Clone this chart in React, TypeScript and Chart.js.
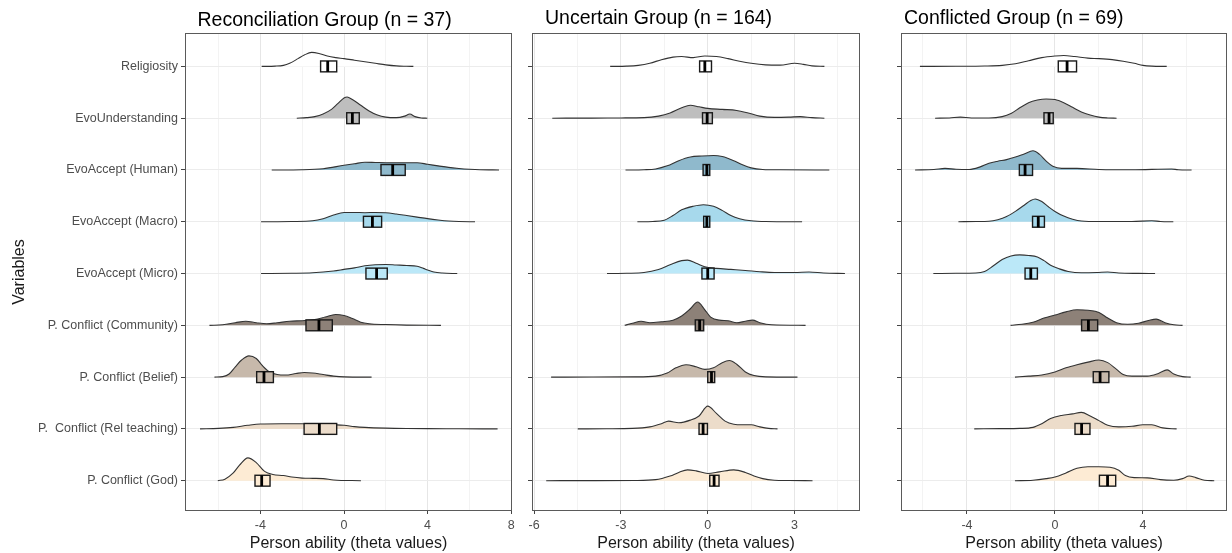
import React, { useEffect, useRef } from "react";
import { Chart, registerables } from "chart.js";

Chart.register(...registerables);

const FONT = "'Liberation Sans', Arial, Helvetica, sans-serif";

// ---------------- data ----------------
const categories = [
  "Religiosity",
  "EvoUnderstanding",
  "EvoAccept (Human)",
  "EvoAccept (Macro)",
  "EvoAccept (Micro)",
  "P. Conflict (Community)",
  "P. Conflict (Belief)",
  "P.  Conflict (Rel teaching)",
  "P. Conflict (God)",
];
const fillColors = ["#ffffff", "#bebebe", "#8fb9cc", "#a7d9ec", "#bbe8f8", "#8d8178", "#c7b9ab", "#ecdcca", "#fdebd4"];
const groupTitles = ["Reconciliation Group (n = 37)", "Uncertain Group (n = 164)", "Conflicted Group (n = 69)"];
const xAxisTitle = "Person ability (theta values)";
const yAxisTitle = "Variables";

const reconRange = [-7.61, 8.04];
const reconMajorTicks = [-4, 0, 4, 8];
const reconMinorTicks = [-6, -2, 2, 6];
const uncRange = [-6.07, 5.26];
const uncMajorTicks = [-6, -3, 0, 3];
const uncMinorTicks = [-4.5, -1.5, 1.5, 4.5];
const confRange = [-7.0, 7.82];
const confMajorTicks = [-4, 0, 4];
const confMinorTicks = [-6, -2, 2, 6];

// density curves: [theta, relative height]
const reconDensity: number[][][] = [
  [[-3.94,0],[-3.3,0.005],[-2.9,0.02],[-2.6,0.06],[-2.2,0.15],[-1.9,0.22],[-1.55,0.27],[-1.2,0.25],[-0.8,0.2],[-0.4,0.17],[0,0.15],[0.5,0.12],[1.0,0.09],[1.5,0.06],[2.0,0.03],[2.5,0.01],[3.0,0.003],[3.32,0]],
  [[-2.26,0],[-1.8,0.01],[-1.4,0.03],[-1.0,0.08],[-0.6,0.17],[-0.3,0.28],[0,0.39],[0.15,0.41],[0.4,0.36],[0.8,0.25],[1.2,0.14],[1.6,0.06],[2.0,0.02],[2.5,0.01],[2.9,0.04],[3.15,0.08],[3.4,0.03],[3.7,0.005],[3.99,0]],
  [[-3.46,0],[-2,0.005],[-1,0.025],[0,0.09],[0.5,0.12],[1,0.15],[1.5,0.145],[2,0.14],[2.5,0.14],[3,0.14],[3.5,0.14],[4,0.11],[4.5,0.08],[5,0.05],[5.5,0.03],[6,0.015],[6.5,0.005],[7.42,0]],
  [[-3.97,0],[-2.5,0.005],[-1.5,0.02],[-1,0.06],[-0.5,0.13],[0,0.18],[0.5,0.18],[1,0.175],[1.5,0.18],[2,0.175],[2.5,0.15],[3,0.12],[3.5,0.09],[4,0.06],[4.5,0.035],[5,0.015],[5.5,0.005],[6.27,0]],
  [[-3.97,0],[-2.5,0.005],[-1.5,0.015],[-0.5,0.05],[0,0.08],[0.5,0.11],[1,0.15],[1.5,0.17],[2,0.175],[2.5,0.165],[3,0.155],[3.5,0.14],[3.8,0.1],[4.0,0.07],[4.3,0.03],[4.7,0.01],[5.42,0]],
  [[-6.44,0],[-5.8,0.01],[-5.2,0.05],[-4.7,0.08],[-4.2,0.05],[-3.7,0.03],[-3.2,0.05],[-2.6,0.08],[-2,0.09],[-1.4,0.11],[-0.9,0.16],[-0.4,0.21],[0,0.19],[0.4,0.13],[0.8,0.06],[1.2,0.03],[2,0.015],[3,0.005],[4.64,0]],
  [[-6.2,0],[-5.8,0.01],[-5.5,0.06],[-5.2,0.2],[-4.9,0.33],[-4.55,0.41],[-4.2,0.36],[-3.9,0.22],[-3.6,0.11],[-3.2,0.05],[-2.8,0.04],[-2.3,0.07],[-1.9,0.09],[-1.5,0.08],[-1.0,0.05],[-0.5,0.02],[0,0.005],[1.32,0]],
  [[-6.89,0],[-6,0.01],[-5.3,0.03],[-4.6,0.07],[-4,0.095],[-3,0.1],[-2,0.1],[-1,0.09],[0,0.07],[0.5,0.045],[1,0.03],[2,0.015],[3,0.008],[4,0.005],[5.5,0.003],[7.35,0]],
  [[-6.04,0],[-5.7,0.03],[-5.3,0.15],[-5.0,0.3],[-4.6,0.44],[-4.2,0.35],[-3.8,0.18],[-3.4,0.12],[-2.9,0.1],[-2.5,0.07],[-2,0.05],[-1.5,0.045],[-1,0.04],[-0.5,0.015],[0.81,0]],
];
const reconBoxLow = [-1.12, 0.13, 1.77, 0.93, 1.05, -1.82, -4.18, -1.91, -4.26];
const reconBoxMid = [-0.78, 0.40, 2.33, 1.36, 1.56, -1.2, -3.83, -1.18, -3.94];
const reconBoxHigh = [-0.35, 0.73, 2.93, 1.80, 2.07, -0.56, -3.38, -0.35, -3.54];

const uncDensity: number[][][] = [
  [[-3.37,0],[-2.8,0.005],[-2.4,0.02],[-2.0,0.06],[-1.6,0.13],[-1.2,0.18],[-0.9,0.19],[-0.5,0.17],[-0.1,0.2],[0.3,0.19],[0.7,0.15],[1.1,0.1],[1.5,0.06],[2.0,0.03],[2.5,0.025],[3.0,0.06],[3.3,0.04],[3.6,0.01],[4.03,0]],
  [[-5.37,0],[-4,0.002],[-3,0.005],[-2.2,0.01],[-1.7,0.04],[-1.3,0.1],[-0.9,0.2],[-0.6,0.25],[-0.3,0.22],[0,0.19],[0.5,0.17],[1.0,0.15],[1.4,0.1],[1.8,0.04],[2.3,0.015],[2.8,0.02],[3.2,0.03],[3.6,0.01],[4.03,0]],
  [[-2.84,0],[-2.2,0.005],[-1.8,0.02],[-1.4,0.08],[-1.0,0.18],[-0.6,0.25],[-0.2,0.27],[0.2,0.28],[0.5,0.26],[0.9,0.18],[1.2,0.1],[1.5,0.04],[1.9,0.01],[2.5,0.003],[4.2,0]],
  [[-2.43,0],[-1.9,0.005],[-1.5,0.03],[-1.2,0.12],[-0.9,0.23],[-0.5,0.3],[-0.15,0.33],[0.2,0.3],[0.5,0.22],[0.8,0.12],[1.1,0.06],[1.5,0.02],[2,0.005],[3.26,0]],
  [[-3.48,0],[-2.8,0.005],[-2.2,0.02],[-1.7,0.08],[-1.3,0.17],[-0.9,0.25],[-0.7,0.26],[-0.4,0.2],[-0.1,0.13],[0.3,0.1],[0.8,0.08],[1.3,0.06],[1.8,0.035],[2.3,0.02],[3.0,0.02],[3.5,0.03],[4.0,0.01],[4.74,0]],
  [[-2.87,0],[-2.6,0.04],[-2.3,0.08],[-2.0,0.05],[-1.6,0.07],[-1.2,0.1],[-0.9,0.18],[-0.6,0.32],[-0.35,0.45],[-0.1,0.3],[0.1,0.16],[0.4,0.1],[0.7,0.09],[1.0,0.05],[1.3,0.08],[1.55,0.1],[1.8,0.05],[2.2,0.01],[3.38,0]],
  [[-5.41,0],[-4,0.002],[-2.5,0.005],[-1.8,0.02],[-1.4,0.08],[-1.1,0.18],[-0.75,0.24],[-0.4,0.2],[-0.1,0.15],[0.2,0.18],[0.5,0.28],[0.75,0.32],[1.0,0.25],[1.3,0.1],[1.6,0.03],[2.0,0.005],[3.1,0]],
  [[-4.49,0],[-3.5,0.003],[-2.6,0.01],[-2.0,0.04],[-1.6,0.1],[-1.35,0.15],[-1.0,0.12],[-0.6,0.17],[-0.3,0.25],[0,0.44],[0.3,0.3],[0.6,0.15],[0.9,0.09],[1.2,0.08],[1.5,0.08],[1.8,0.04],[2.1,0.01],[2.41,0]],
  [[-5.58,0],[-4,0.002],[-2.5,0.005],[-1.8,0.02],[-1.3,0.09],[-1.0,0.16],[-0.7,0.21],[-0.4,0.19],[0,0.14],[0.4,0.17],[0.9,0.21],[1.3,0.16],[1.6,0.09],[1.9,0.04],[2.3,0.01],[2.8,0.003],[3.62,0]],
];
const uncBoxLow = [-0.28, -0.18, -0.16, -0.14, -0.2, -0.43, 0, -0.3, 0.07];
const uncBoxMid = [-0.1, -0.02, -0.03, -0.03, 0, -0.28, 0.13, -0.16, 0.22];
const uncBoxHigh = [0.13, 0.16, 0.07, 0.07, 0.22, -0.14, 0.24, -0.01, 0.39];

const confDensity: number[][][] = [
  [[-6.14,0],[-4.5,0.003],[-3.2,0.008],[-2.4,0.02],[-1.8,0.05],[-1.2,0.11],[-0.6,0.17],[0,0.2],[0.4,0.21],[0.9,0.19],[1.5,0.16],[2.0,0.15],[2.6,0.13],[3.1,0.1],[3.6,0.06],[4.0,0.02],[4.4,0.005],[5.08,0]],
  [[-5.45,0],[-4.8,0.005],[-4.3,0.02],[-3.8,0.005],[-3.0,0.005],[-2.4,0.03],[-2.0,0.09],[-1.6,0.2],[-1.2,0.3],[-0.8,0.35],[-0.4,0.37],[0,0.36],[0.4,0.3],[0.8,0.21],[1.2,0.12],[1.6,0.06],[2.0,0.02],[2.4,0.005],[2.8,0]],
  [[-6.36,0],[-5.5,0.01],[-5.0,0.03],[-4.5,0.015],[-3.9,0.01],[-3.4,0.06],[-3.0,0.13],[-2.6,0.17],[-2.2,0.2],[-1.8,0.25],[-1.4,0.31],[-1.0,0.37],[-0.7,0.3],[-0.4,0.17],[-0.1,0.07],[0.3,0.03],[1.0,0.03],[2.0,0.01],[3.5,0.003],[5.3,0.02],[5.6,0.005],[6.21,0]],
  [[-4.39,0],[-3.6,0.005],[-3.0,0.01],[-2.6,0.04],[-2.2,0.1],[-1.8,0.2],[-1.4,0.32],[-1.1,0.41],[-0.9,0.44],[-0.6,0.39],[-0.3,0.29],[0,0.2],[0.4,0.11],[0.8,0.05],[1.2,0.015],[2.0,0.005],[3.5,0.005],[4.4,0.02],[4.8,0.005],[5.38,0]],
  [[-5.53,0],[-4.5,0.005],[-3.6,0.01],[-3.2,0.04],[-2.8,0.15],[-2.4,0.27],[-2.0,0.34],[-1.6,0.36],[-1.2,0.35],[-0.8,0.32],[-0.5,0.25],[-0.2,0.16],[0.2,0.09],[0.6,0.04],[1.2,0.015],[1.9,0.02],[2.4,0.03],[2.9,0.01],[3.8,0.003],[4.55,0]],
  [[-2.02,0],[-1.5,0.02],[-1.0,0.06],[-0.5,0.14],[0,0.2],[0.5,0.26],[1.0,0.3],[1.5,0.29],[2.0,0.25],[2.4,0.14],[2.8,0.05],[3.3,0.02],[3.8,0.04],[4.3,0.1],[4.6,0.12],[5.0,0.05],[5.4,0.01],[5.8,0]],
  [[-1.82,0],[-1.2,0.02],[-0.6,0.04],[0,0.1],[0.5,0.18],[1.0,0.24],[1.5,0.29],[2.0,0.33],[2.4,0.28],[2.8,0.15],[3.1,0.05],[3.5,0.02],[4.2,0.02],[4.7,0.07],[5.1,0.14],[5.4,0.06],[5.8,0.01],[6.17,0]],
  [[-3.67,0],[-2.5,0.005],[-1.6,0.01],[-1.0,0.03],[-0.6,0.1],[-0.2,0.2],[0.3,0.26],[0.8,0.29],[1.2,0.32],[1.6,0.25],[2.0,0.16],[2.4,0.07],[2.9,0.04],[3.5,0.05],[4.0,0.08],[4.4,0.08],[4.9,0.02],[5.53,0]],
  [[-1.82,0],[-1.0,0.01],[-0.4,0.04],[0,0.07],[0.5,0.15],[1.0,0.24],[1.5,0.27],[2.0,0.27],[2.5,0.26],[2.9,0.2],[3.2,0.1],[3.6,0.06],[4.2,0.055],[4.8,0.02],[5.4,0.01],[5.8,0.04],[6.1,0.09],[6.4,0.06],[6.8,0.01],[7.24,0]],
];
const confBoxLow = [0.15, -0.5, -1.62, -1.02, -1.36, 1.21, 1.74, 0.91, 2.02];
const confBoxMid = [0.55, -0.27, -1.36, -0.76, -1.1, 1.52, 2.05, 1.21, 2.39];
const confBoxHigh = [0.98, -0.08, -1.02, -0.48, -0.8, 1.94, 2.45, 1.59, 2.76];

// ---------------- assembly ----------------
type Group = {
  range: number[];
  major: number[];
  minor: number[];
  density: number[][][];
  low: number[];
  mid: number[];
  high: number[];
};

const groups: Group[] = [
  { range: reconRange, major: reconMajorTicks, minor: reconMinorTicks, density: reconDensity, low: reconBoxLow, mid: reconBoxMid, high: reconBoxHigh },
  { range: uncRange, major: uncMajorTicks, minor: uncMinorTicks, density: uncDensity, low: uncBoxLow, mid: uncBoxMid, high: uncBoxHigh },
  { range: confRange, major: confMajorTicks, minor: confMinorTicks, density: confDensity, low: confBoxLow, mid: confBoxMid, high: confBoxHigh },
];

const H = 553;
const panelLayout = [
  { left: 0, width: 520, yAxisWidth: 185, padRight: 8, showLabels: true, titleLeft: 197.5, titleTop: 8 },
  { left: 520, width: 345, yAxisWidth: 12, padRight: 5, showLabels: false, titleLeft: 545, titleTop: 6 },
  { left: 865, width: 367, yAxisWidth: 36, padRight: 5, showLabels: false, titleLeft: 904, titleTop: 6 },
];
const Y_MIN = 0.415;
const Y_MAX = 9.645;
const BOX_HALF = 0.105;

function makeExtras(g: Group) {
  return {
    id: "ridgeExtras",
    afterDatasetsDraw(chart: any) {
      const { ctx, scales } = chart;
      const x = scales.x;
      const y = scales.y;
      const n = categories.length;
      ctx.save();
      g.mid.forEach((m, i) => {
        const row = n - i;
        const x0 = x.getPixelForValue(g.low[i]);
        const x1 = x.getPixelForValue(g.high[i]);
        const xm = x.getPixelForValue(m);
        const yt = y.getPixelForValue(row + BOX_HALF);
        const yb = y.getPixelForValue(row - BOX_HALF);
        ctx.fillStyle = fillColors[i];
        ctx.fillRect(x0, yt, x1 - x0, yb - yt);
        ctx.lineWidth = 1.4;
        ctx.strokeStyle = "#1a1a1a";
        ctx.strokeRect(x0, yt, x1 - x0, yb - yt);
        ctx.lineWidth = 2.8;
        ctx.strokeStyle = "#000000";
        ctx.beginPath();
        ctx.moveTo(xm, yt);
        ctx.lineTo(xm, yb);
        ctx.stroke();
      });
      ctx.restore();
    },
    afterDraw(chart: any) {
      const { ctx, chartArea: a } = chart;
      ctx.save();
      ctx.strokeStyle = "#5a5a5a";
      ctx.lineWidth = 1;
      ctx.strokeRect(Math.round(a.left) + 0.5, Math.round(a.top) + 0.5, Math.round(a.right - a.left) - 1, Math.round(a.bottom - a.top) - 1);
      ctx.restore();
    },
  };
}

function makeConfig(g: Group, p: (typeof panelLayout)[number]): any {
  const n = categories.length;
  const datasets = g.density.map((pts, i) => {
    const row = n - i;
    return {
      label: categories[i],
      data: pts.map(([x, h]) => ({ x, y: row + h })),
      borderColor: "#333333",
      borderWidth: 1.1,
      backgroundColor: fillColors[i],
      fill: { value: row },
      pointRadius: 0,
      pointHoverRadius: 0,
      cubicInterpolationMode: "monotone",
    };
  });
  const allTicks = [...g.major, ...g.minor].sort((a, b) => a - b);
  const rows = categories.map((_, i) => n - i).sort((a, b) => a - b);
  return {
    type: "line",
    data: { datasets },
    plugins: [makeExtras(g)],
    options: {
      responsive: false,
      animation: false,
      events: [],
      layout: { padding: { left: 0, right: p.padRight, top: 33, bottom: 0 } },
      plugins: { legend: { display: false }, tooltip: { enabled: false }, title: { display: false } },
      scales: {
        x: {
          type: "linear",
          min: g.range[0],
          max: g.range[1],
          afterBuildTicks: (s: any) => {
            s.ticks = allTicks.map((v) => ({ value: v }));
          },
          afterFit: (s: any) => {
            s.height = 42;
          },
          ticks: {
            autoSkip: false,
            maxRotation: 0,
            padding: 4,
            color: "#4d4d4d",
            font: { family: FONT, size: 12.5 },
            callback: (v: number) => (g.major.includes(v) ? String(v) : ""),
          },
          grid: {
            color: (c: any) => (c.tick && g.major.includes(c.tick.value) ? "#e6e6e6" : "#f3f3f3"),
            tickColor: (c: any) => (c.tick && g.major.includes(c.tick.value) ? "#444444" : "rgba(0,0,0,0)"),
            tickLength: 3,
            lineWidth: 1,
          },
          border: { display: false },
          title: {
            display: true,
            text: xAxisTitle,
            color: "#1a1a1a",
            font: { family: FONT, size: 16 },
            padding: { top: 0, bottom: 0 },
          },
        },
        y: {
          type: "linear",
          min: Y_MIN,
          max: Y_MAX,
          afterBuildTicks: (s: any) => {
            s.ticks = rows.map((v) => ({ value: v }));
          },
          afterFit: (s: any) => {
            s.width = p.yAxisWidth;
          },
          ticks: {
            autoSkip: false,
            padding: 3,
            color: "#4d4d4d",
            font: { family: FONT, size: 12.5 },
            callback: (v: number) => (p.showLabels ? categories[n - v] : ""),
          },
          grid: { color: "#ececec", tickColor: "#444444", tickLength: 4, lineWidth: 1 },
          border: { display: false },
          title: {
            display: p.showLabels,
            text: yAxisTitle,
            color: "#1a1a1a",
            font: { family: FONT, size: 16 },
            padding: { top: 9.6, bottom: 0 },
          },
        },
      },
    },
  };
}

export default function App() {
  const r0 = useRef<HTMLCanvasElement>(null);
  const r1 = useRef<HTMLCanvasElement>(null);
  const r2 = useRef<HTMLCanvasElement>(null);
  const refs = [r0, r1, r2];

  useEffect(() => {
    const prevMargin = document.body.style.margin;
    document.body.style.margin = "0";
    const charts = groups.map((g, gi) => new Chart(refs[gi].current as HTMLCanvasElement, makeConfig(g, panelLayout[gi])));
    return () => {
      charts.forEach((c) => c.destroy());
      document.body.style.margin = prevMargin;
    };
  }, []);

  return (
    <div style={{ position: "relative", width: 1232, height: H, background: "#ffffff", fontFamily: FONT, overflow: "hidden" }}>
      {panelLayout.map((p, i) => (
        <canvas
          key={"c" + i}
          ref={refs[i]}
          width={p.width}
          height={H}
          style={{ position: "absolute", left: p.left, top: 0, width: p.width, height: H }}
        />
      ))}
      {panelLayout.map((p, i) => (
        <div
          key={"t" + i}
          style={{
            position: "absolute",
            left: p.titleLeft,
            top: p.titleTop,
            fontSize: 19.5,
            lineHeight: "22px",
            color: "#000000",
            whiteSpace: "nowrap",
          }}
        >
          {groupTitles[i]}
        </div>
      ))}
    </div>
  );
}
